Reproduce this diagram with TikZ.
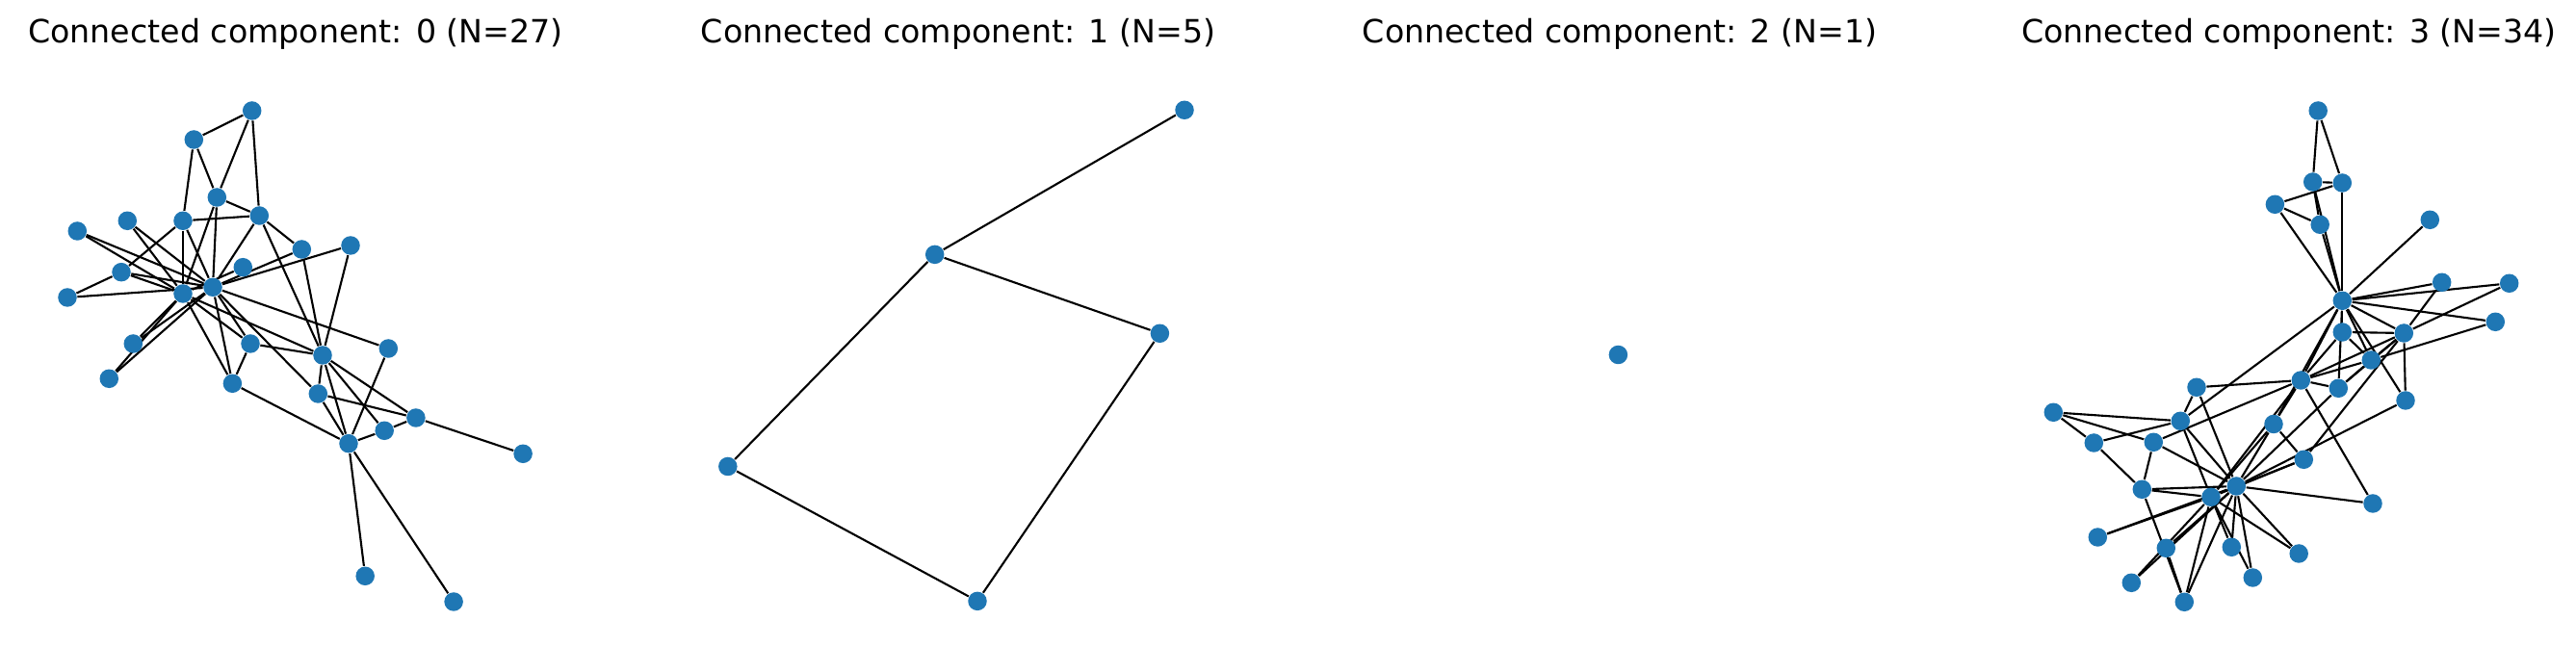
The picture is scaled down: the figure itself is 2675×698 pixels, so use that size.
\documentclass[tikz,border=0pt]{standalone}
\usepackage{fontspec}
\setmainfont{DejaVu Sans}
\usetikzlibrary{backgrounds}
\definecolor{mplblue}{RGB}{31,119,180}
\tikzset{
  vtx/.style={circle,fill=mplblue,inner sep=0pt,minimum size=0.195cm},
  edge/.style={line width=0.6pt,black},
  ttl/.style={anchor=base,inner sep=0pt,font=\fontsize{9.45pt}{11pt}\selectfont}
}

\begin{document}
\begin{tikzpicture}[x=0.01cm,y=-0.01cm]
        \useasboundingbox (0,0) rectangle (2675,698);
        % titles
        \node[ttl] (t0) at (307,45) {Connected component: 0 (N=27)};
        \node[ttl] (t1) at (995,45) {Connected component: 1 (N=5)};
        \node[ttl] (t2) at (1682,45) {Connected component: 2 (N=1)};
        \node[ttl] (t3) at (2377,45) {Connected component: 3 (N=34)};
        % component 0
        \node[vtx] (c1) at (261.7,115) {};
        \node[vtx] (c2) at (201.3,145) {};
        \node[vtx] (c3) at (225.3,205) {};
        \node[vtx] (c4) at (269.3,224) {};
        \node[vtx] (c5) at (190,229.3) {};
        \node[vtx] (c6) at (132.3,229.3) {};
        \node[vtx] (c7) at (80.3,240) {};
        \node[vtx] (c8) at (313.3,259) {};
        \node[vtx] (c9) at (364,255) {};
        \node[vtx] (c10) at (252.3,277.7) {};
        \node[vtx] (c11) at (126,282.7) {};
        \node[vtx] (c12) at (221,298.3) {};
        \node[vtx] (c13) at (190,305) {};
        \node[vtx] (c14) at (70,309) {};
        \node[vtx] (c15) at (138.3,357) {};
        \node[vtx] (c16) at (260,357) {};
        \node[vtx] (c17) at (335,369) {};
        \node[vtx] (c18) at (403.3,362) {};
        \node[vtx] (c19) at (113.3,393.3) {};
        \node[vtx] (c20) at (241.4,398.3) {};
        \node[vtx] (c21) at (330.3,409) {};
        \node[vtx] (c22) at (431.9,434) {};
        \node[vtx] (c23) at (399.2,447.3) {};
        \node[vtx] (c24) at (362,460.7) {};
        \node[vtx] (c25) at (543.1,471.3) {};
        \node[vtx] (c26) at (379.2,598.3) {};
        \node[vtx] (c27) at (471.1,625) {};
        % component 1
        \node[vtx] (d1) at (1230,114.3) {};
        \node[vtx] (d2) at (970.7,264.4) {};
        \node[vtx] (d3) at (1204.4,346.3) {};
        \node[vtx] (d4) at (755.8,484.5) {};
        \node[vtx] (d5) at (1015,624.4) {};
        % component 2
        \node[vtx] (e1) at (1680.4,368.5) {};
        % component 3
        \node[vtx] (k0) at (2432.3,312.3) {};
        \node[vtx] (k1) at (2496.3,346) {};
        \node[vtx] (k2) at (2389.3,395) {};
        \node[vtx] (k3) at (2462.3,374) {};
        \node[vtx] (k4) at (2362.4,212.3) {};
        \node[vtx] (k5) at (2401.7,189) {};
        \node[vtx] (k6) at (2432.3,190) {};
        \node[vtx] (k7) at (2432.3,345) {};
        \node[vtx] (k8) at (2361,440.5) {};
        \node[vtx] (k9) at (2464,523) {};
        \node[vtx] (k10) at (2409.2,233.3) {};
        \node[vtx] (k11) at (2523.3,228.3) {};
        \node[vtx] (k12) at (2591.3,334.3) {};
        \node[vtx] (k13) at (2428.3,403.3) {};
        \node[vtx] (k14) at (2178.3,558) {};
        \node[vtx] (k15) at (2317.3,568.3) {};
        \node[vtx] (k16) at (2407.2,115) {};
        \node[vtx] (k17) at (2535.7,293.3) {};
        \node[vtx] (k18) at (2387.2,575) {};
        \node[vtx] (k19) at (2498,416) {};
        \node[vtx] (k20) at (2213.3,605.3) {};
        \node[vtx] (k21) at (2605.7,294.3) {};
        \node[vtx] (k22) at (2339.3,600) {};
        \node[vtx] (k23) at (2224.3,508.3) {};
        \node[vtx] (k24) at (2132.3,428.3) {};
        \node[vtx] (k25) at (2174.3,460) {};
        \node[vtx] (k26) at (2249.3,569.3) {};
        \node[vtx] (k27) at (2236.3,459.3) {};
        \node[vtx] (k28) at (2281,402.3) {};
        \node[vtx] (k29) at (2268.3,625.3) {};
        \node[vtx] (k30) at (2392.3,477.3) {};
        \node[vtx] (k31) at (2264.3,437.3) {};
        \node[vtx] (k32) at (2296,516.3) {};
        \node[vtx] (k33) at (2322.3,505) {};
        \begin{pgfonlayer}{background}
        % edges, component 0
        \foreach \a/\b in {c1/c2,c1/c3,c1/c4,c2/c3,c2/c5,c3/c4,c3/c12,c3/c13,
            c4/c5,c4/c8,c4/c12,c4/c17,c5/c11,c5/c12,c5/c13,c6/c12,c6/c13,
            c7/c12,c7/c13,c8/c12,c8/c17,c9/c12,c9/c17,c10/c13,c11/c12,c11/c13,
            c11/c14,c12/c14,c12/c15,c12/c16,c12/c18,c12/c19,c12/c20,c12/c21,
            c13/c15,c13/c16,c13/c17,c13/c19,c13/c20,c16/c17,c16/c20,c17/c21,
            c17/c22,c17/c23,c17/c24,c18/c24,c20/c24,c21/c22,c21/c24,c22/c23,
            c22/c25,c23/c24,c24/c26,c24/c27}
            \draw[edge] (\a) -- (\b);
        % edges, component 1
        \draw[edge] (d1) -- (d2) -- (d3) -- cycle;
        \draw[edge] (d2) -- (d4) -- (d5) -- (d3);
        % edges, component 3
        \foreach \a/\b in {k0/k1,k0/k2,k0/k3,k0/k4,k0/k5,k0/k6,k0/k7,k0/k8,
            k0/k10,k0/k11,k0/k12,k0/k13,k0/k17,k0/k19,k0/k21,k0/k31,
            k1/k2,k1/k3,k1/k7,k1/k13,k1/k17,k1/k19,k1/k21,k1/k30,
            k2/k3,k2/k7,k2/k8,k2/k9,k2/k13,k2/k27,k2/k28,k2/k32,
            k3/k7,k3/k12,k3/k13,k4/k6,k4/k10,k5/k6,k5/k10,k5/k16,k6/k16,
            k8/k30,k8/k32,k8/k33,k9/k33,k13/k33,k14/k32,k14/k33,k15/k32,
            k15/k33,k18/k32,k18/k33,k19/k33,k20/k32,k20/k33,k22/k32,k22/k33,
            k23/k25,k23/k27,k23/k29,k23/k32,k23/k33,k24/k25,k24/k27,k24/k31,
            k25/k31,k26/k29,k26/k33,k27/k33,k28/k31,k28/k33,k29/k32,k29/k33,
            k30/k32,k30/k33,k31/k32,k31/k33,k32/k33}
            \draw[edge] (\a) -- (\b);
        \end{pgfonlayer}
    \end{tikzpicture}
\end{document}
